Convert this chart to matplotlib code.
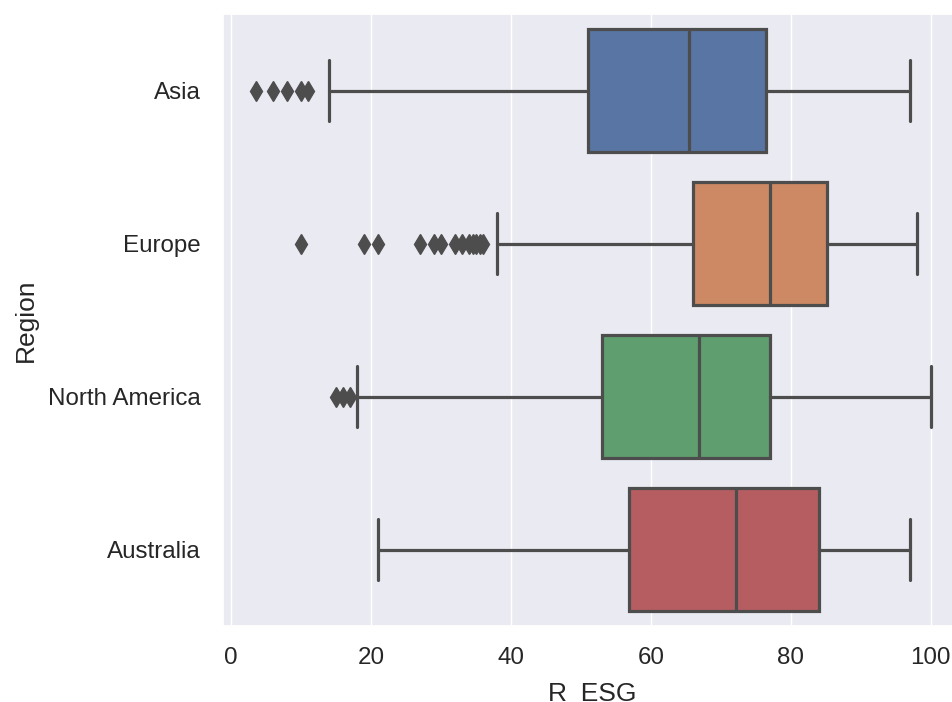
import matplotlib
matplotlib.use("Agg")
import matplotlib.pyplot as plt
import seaborn as sns

# boxplot summary values
regions = ["Asia", "Europe", "North America", "Australia"]
whislo = [14, 38, 18, 21]
q1 = [51, 66, 53, 56.8]
med = [65.4, 77, 66.9, 72.2]
q3 = [76.4, 85.1, 77, 84]
whishi = [97, 98, 100, 97]
fliers = [
    [3.5, 6, 8, 10, 11],
    [10, 19, 21, 27, 29, 30, 32, 33, 34, 34.5, 35, 35.5, 36],
    [15, 16, 17],
    [],
]
colors = ["#5875a4", "#cc8963", "#5f9e6e", "#b55d60"]
gray = "#4d4d4d"

sns.set_theme(style="darkgrid")
plt.rcParams['font.family'] = ['Liberation Sans', 'DejaVu Sans']

fig = plt.figure(figsize=(9.52, 7.02), dpi=100)
# the original figure was cropped on the right, so the axes run past the edge
ax = fig.add_axes([0.234, 0.108, 0.776, 0.872])

stats = []
for i in range(len(regions)):
    stats.append(dict(label=regions[i], whislo=whislo[i], q1=q1[i], med=med[i],
                      q3=q3[i], whishi=whishi[i], fliers=fliers[i]))

lw = 2.3
bp = ax.bxp(stats, positions=range(len(regions)), vert=False, widths=0.8,
            patch_artist=True,
            boxprops=dict(edgecolor=gray, linewidth=lw),
            medianprops=dict(color=gray, linewidth=lw),
            whiskerprops=dict(color=gray, linewidth=lw),
            capprops=dict(color=gray, linewidth=lw),
            flierprops=dict(marker="d", markersize=10, markerfacecolor=gray,
                            markeredgecolor=gray, linestyle="none"),
            capwidths=0.4)
for patch, c in zip(bp["boxes"], colors):
    patch.set_facecolor(c)
    patch.set_zorder(2)

ax.grid(False, axis="y")
ax.set_ylim(3.5, -0.5)
ax.set_xlim(-1.2, 104.4)
ax.set_xticks([0, 20, 40, 60, 80, 100])
ax.set_yticks(range(len(regions)))
ax.set_yticklabels(regions)
ax.tick_params(axis="x", labelsize=17.4, pad=9.3)
ax.tick_params(axis="y", labelsize=17.4, pad=10)
ax.set_xlabel("R_ESG", fontsize=19, labelpad=8.8)
ax.set_ylabel("Region", fontsize=19, labelpad=7)

fig.savefig("out.png", dpi=100)
